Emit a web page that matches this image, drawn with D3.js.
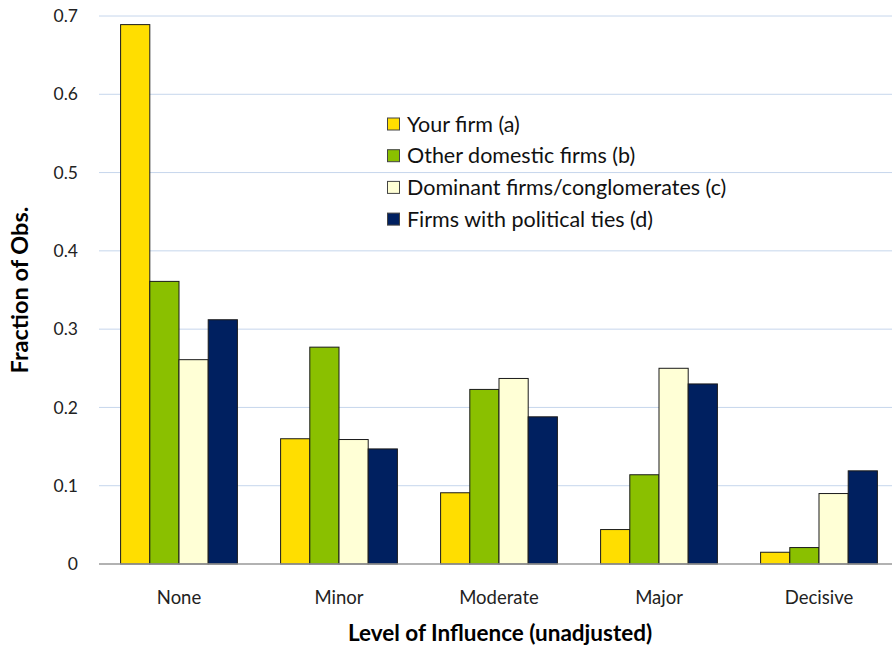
<!DOCTYPE html>
<html>
<head>
<meta charset="utf-8">
<script src="https://cdn.jsdelivr.net/npm/d3@7"></script>
<style>
  body { margin: 0; background: #fff; }
  svg { display: block; font-family: Lato, "Open Sans", sans-serif; }
</style>
</head>
<body>
<div class="chart"></div>
<script>
// Data
const levels = ["None", "Minor", "Moderate", "Major", "Decisive"];
const seriesNames = ["Your firm (a)", "Other domestic firms (b)", "Dominant firms/conglomerates (c)", "Firms with political ties (d)"];
const yourFirm = [0.689, 0.160, 0.091, 0.044, 0.015];
const otherDomestic = [0.361, 0.277, 0.223, 0.114, 0.021];
const dominant = [0.261, 0.159, 0.237, 0.250, 0.090];
const politicalTies = [0.312, 0.147, 0.188, 0.230, 0.119];
const yTicks = [0, 0.1, 0.2, 0.3, 0.4, 0.5, 0.6, 0.7];
const colors = ["#FFDE00", "#8AC000", "#FFFFD6", "#002060"];

const allSeries = [yourFirm, otherDomestic, dominant, politicalTies];

const W = 892, H = 647;
const margin = { top: 16, right: -7, bottom: 83, left: 99 };
const width = W - margin.left - margin.right;
const height = H - margin.top - margin.bottom;

const svg = d3.select(".chart").append("svg")
    .attr("width", W)
    .attr("height", H);

const g = svg.append("g")
    .attr("transform", `translate(${margin.left},${margin.top})`);

const x = d3.scaleBand()
    .domain(levels)
    .range([0, width])
    .paddingInner(0.27)
    .paddingOuter(0.135);

const xs = d3.scaleBand()
    .domain(seriesNames)
    .range([0, x.bandwidth()]);

const y = d3.scaleLinear()
    .domain([0, 0.7])
    .range([height, 0]);

// gridlines
g.append("g")
    .selectAll("line")
    .data(yTicks.slice(1))
    .enter().append("line")
    .attr("x1", 0)
    .attr("x2", width)
    .attr("y1", d => y(d))
    .attr("y2", d => y(d))
    .attr("stroke", "#C6D6EC")
    .attr("stroke-width", 1);

// y-axis labels
const yAxis = g.append("g")
    .call(d3.axisLeft(y).tickValues(yTicks).tickSize(0).tickPadding(21)
        .tickFormat(d => d === 0 ? "0" : d3.format(".1f")(d)));
yAxis.select(".domain").remove();
yAxis.selectAll("text")
    .style("font-size", "17.5px")
    .style("font-family", "Lato, sans-serif")
    .attr("fill", "#222");

// bars
const rows = levels.map((lvl, i) => ({ lvl, vals: allSeries.map(s => s[i]) }));

g.append("g")
    .selectAll("g")
    .data(rows)
    .enter().append("g")
    .attr("transform", d => `translate(${x(d.lvl)},0)`)
    .selectAll("rect")
    .data(d => d.vals.map((v, k) => ({ k, v })))
    .enter().append("rect")
    .attr("x", d => xs(seriesNames[d.k]))
    .attr("y", d => y(d.v))
    .attr("width", xs.bandwidth())
    .attr("height", d => y(0) - y(d.v))
    .attr("fill", d => colors[d.k])
    .attr("stroke", "#1a1a1a")
    .attr("stroke-width", 1);

// zero axis
g.append("line")
    .attr("x1", 0)
    .attr("x2", width)
    .attr("y1", y(0))
    .attr("y2", y(0))
    .attr("stroke", "#999")
    .attr("stroke-width", 1.5);

// x-axis labels
const xAxis = g.append("g")
    .attr("transform", `translate(0,${height})`)
    .call(d3.axisBottom(x).tickSize(0).tickPadding(27));
xAxis.select(".domain").remove();
xAxis.selectAll("text")
    .style("font-size", "18.5px")
    .style("font-family", "Lato, sans-serif")
    .attr("fill", "#222");

// axis titles
svg.append("text")
    .attr("x", 500)
    .attr("y", 641)
    .attr("text-anchor", "middle")
    .style("font-size", "22.5px")
    .style("font-weight", "bold")
    .text("Level of Influence (unadjusted)");

svg.append("text")
    .attr("transform", "rotate(-90)")
    .attr("x", -290)
    .attr("y", 28)
    .attr("text-anchor", "middle")
    .style("font-size", "23.5px")
    .style("font-weight", "bold")
    .text("Fraction of Obs.");

// legend
const legend = svg.append("g")
    .attr("transform", "translate(387,124)");

const item = legend.selectAll("g")
    .data(seriesNames)
    .enter().append("g")
    .attr("transform", (d, i) => `translate(0,${i * 31.7})`);

item.append("rect")
    .attr("x", 0.5)
    .attr("y", -6)
    .attr("width", 12)
    .attr("height", 12)
    .attr("fill", (d, i) => colors[i])
    .attr("stroke", "#444")
    .attr("stroke-width", 1);

item.append("text")
    .attr("x", 20)
    .attr("y", 0)
    .attr("dy", "0.35em")
    .style("font-size", "21.5px")
    .attr("fill", "#111")
    .text(d => d);
</script>
</body>
</html>
